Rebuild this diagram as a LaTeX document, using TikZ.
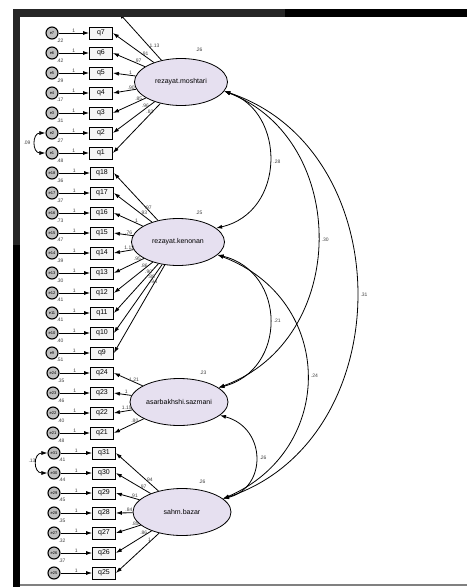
\documentclass[tikz,border=0pt]{standalone}
\usepackage{fontspec}
\setmainfont{Liberation Sans}
\usetikzlibrary{shapes.geometric, arrows.meta}
\definecolor{lilla}{RGB}{230,224,240}
\tikzset{
  item/.style={draw, fill=gray!8, minimum width=23pt, minimum height=12pt, inner sep=0pt, font=\fontsize{7}{7}\selectfont},
  err/.style={circle, draw, line width=1.1pt, fill=gray!50, minimum size=12pt, inner sep=0pt, font=\fontsize{4}{4}\selectfont},
  latent/.style={ellipse, draw, fill=lilla, minimum height=47pt, inner sep=0pt, font=\fontsize{7}{7}\selectfont},
  stima/.style={font=\fontsize{5}{5}\selectfont, text=black!75, inner sep=0.5pt},
}
\begin{document}
\begin{tikzpicture}[x=1pt, y=-1pt, >={Latex[length=6pt,width=4pt]}, line width=0.8pt]
        \useasboundingbox (0,0) rectangle (467,587);

        % Variabili latenti
        \node[latent, minimum width=93pt] (L1) at (181,82) {rezayat.moshtari};
        \node[latent, minimum width=93pt] (L2) at (178,242) {rezayat.kenonan};
        \node[latent, minimum width=98pt] (L3) at (179,402) {asarbakhshi.sazmani};
        \node[latent, minimum width=98pt] (L4) at (182,512) {sahm.bazar};
        \node[stima] (vL1) at (199,50) {.26};
        \node[stima] (vL2) at (199,213) {.25};
        \node[stima] (vL3) at (203,373) {.23};
        \node[stima] (vL4) at (202,482) {.26};

        % Indicatore tagliato dal bordo
        \coordinate (qtop) at (119,13);
        \draw[->] (L1) -- (qtop) node[stima, pos=0.3, right] {1.13};

        % Indicatori di rezayat.moshtari
        \foreach \n/\y/\v/\w in {7/33/.22/.91, 6/53/.42/.97, 5/73/.29/1, 4/93/.17/.90, 3/113/.31/.85, 2/133/.27/.96, 1/153/.48/.83}{
            \node[item] (q\n) at (101,\y) {q\n};
            \node[err] (e\n) at (52,\y) {e\n};
            \draw[->] (e\n) -- (q\n) node[stima, midway, above] {1};
            \node[stima, anchor=north west] (v\n) at ([xshift=-1pt]e\n.south east) {\v};
            \draw[->] (L1) -- (q\n.east) node[stima, pos=0.22, above] (w\n) {\w};
        }

        % Indicatori di rezayat.kenonan
        \foreach \n/\y/\v/\w in {18/173/.36/.97, 17/193/.37/.93, 16/213/.73/1, 15/233/.47/.76, 14/253/.39/1.13, 13/273/.30/.95, 12/293/.41/.86, 11/313/.41/.90, 10/333/.40/.88, 9/353/.51/.94}{
            \node[item] (q\n) at (102,\y) {q\n};
            \node[err] (e\n) at (52,\y) {e\n};
            \draw[->] (e\n) -- (q\n) node[stima, midway, above] {1};
            \node[stima, anchor=north west] (v\n) at ([xshift=-1pt]e\n.south east) {\v};
            \draw[->] (L2) -- (q\n.east) node[stima, pos=0.22, above] (w\n) {\w};
        }

        % Indicatori di asarbakhshi.sazmani
        \foreach \n/\y/\v/\w in {24/373/.35/1.21, 23/393/.46/1, 22/413/.40/1.15, 21/433/.48/.80}{
            \node[item] (q\n) at (102,\y) {q\n};
            \node[err] (e\n) at (53,\y) {e\n};
            \draw[->] (e\n) -- (q\n) node[stima, midway, above] {1};
            \node[stima, anchor=north west] (v\n) at ([xshift=-1pt]e\n.south east) {\v};
            \draw[->] (L3) -- (q\n.east) node[stima, pos=0.3, above] (w\n) {\w};
        }

        % Indicatori di sahm.bazar
        \foreach \n/\y/\v/\w in {31/453/.41/.94, 30/473/.44/.97, 29/493/.45/.91, 28/513/.35/.84, 27/533/.32/.85, 26/553/.37/.86, 25/573//1}{
            \node[item] (q\n) at (104,\y) {q\n};
            \node[err] (e\n) at (54,\y) {e\n};
            \draw[->] (e\n) -- (q\n) node[stima, midway, above] {1};
            \node[stima, anchor=north west] (v\n) at ([xshift=-1pt]e\n.south east) {\v};
            \draw[->] (L4) -- (q\n.east) node[stima, pos=0.22, above] (w\n) {\w};
        }

        % Covarianze tra errori
        \draw[<->] (e2.west) .. controls (32,133) and (32,153) .. (e1.west);
        \node[stima] (c21) at (27,143) {.09};
        \draw[<->] (e31.west) .. controls (33,453) and (33,473) .. (e30.west);
        \node[stima] (c3130) at (32,461) {.13};

        % Covarianze tra fattori
        \draw[<->] (L1.-12) .. controls (286,112) and (286,212) .. (L2.20) node[stima, pos=0.5, right=3pt] {.28};
        \draw[<->] (L1.-12) .. controls (350,140) and (350,340) .. (L3.20) node[stima, pos=0.5, right=3pt] {.30};
        \draw[<->] (L1.-12) .. controls (401,150) and (401,440) .. (L4.18) node[stima, pos=0.5, right=3pt] {.31};
        \draw[<->] (L2.-18) .. controls (287,272) and (287,370) .. (L3.20) node[stima, pos=0.5, right=3pt] {.21};
        \draw[<->] (L2.-18) .. controls (336,300) and (336,450) .. (L4.18) node[stima, pos=0.5, right=3pt] {.24};
        \draw[<->] (L3.-18) .. controls (267,428) and (267,488) .. (L4.18) node[stima, pos=0.5, right=3pt] {.26};

        % Cornice
        \fill[black!85] (13,9) rectangle (285,17);
        \fill[black] (285,9) rectangle (467,17);
        \fill[black!85] (13,9) rectangle (20,245);
        \fill[black] (13,245) rectangle (20,587);
        \draw[gray, line width=1.2pt] (20,585) -- (467,585);
\end{tikzpicture}
\end{document}
